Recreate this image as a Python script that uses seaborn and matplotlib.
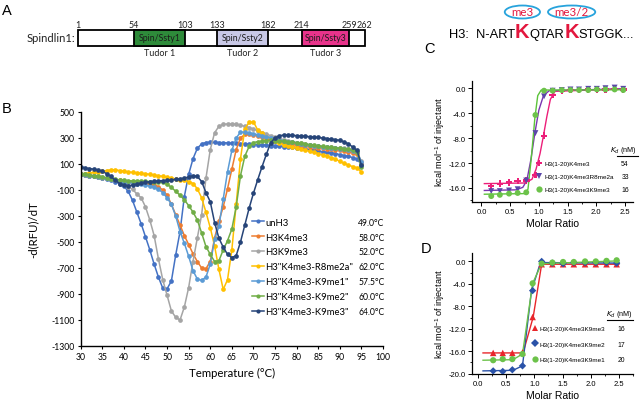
import matplotlib
matplotlib.use("Agg")
import matplotlib.pyplot as plt
import seaborn as sns
import pandas as pd
import numpy as np
from matplotlib.patches import Rectangle, Ellipse
from matplotlib.lines import Line2D
from matplotlib.ticker import MultipleLocator, FormatStrFormatter
from matplotlib.font_manager import FontProperties

# ------------------------------------------------------------------ data
# Panel A: domain architecture
protein_name = "Spindlin1:"
protein_start = 1
protein_end = 262
domain_names = ["Spin/Ssty1", "Spin/Ssty2", "Spin/Ssty3"]
domain_start = [54, 133, 214]
domain_end = [103, 182, 259]
domain_tudor = ["Tudor 1", "Tudor 2", "Tudor 3"]
domain_colors = ["#2e8b3a", "#c8c8e6", "#e8338b"]

# H3 tail sequence
seq_prefix = "H3:  N-ART"
seq_parts = ["K", "QTAR", "K", "STGGK..."]
seq_mods = ["me3", None, "me3/2", None]

# Panel B: DSF first-derivative curves
temps = list(range(30, 96))
dsf_labels = ["unH3", "H3K4me3", "H3K9me3", 'H3"K4me3-R8me2a"',
              'H3"K4me3-K9me1"', 'H3"K4me3-K9me2"', 'H3"K4me3-K9me3"']
dsf_tm = ["49.0°C", "58.0°C", "52.0°C", "62.0°C", "57.5°C", "60.0°C", "64.0°C"]
dsf_colors = ["#4472c4", "#ed7d31", "#a5a5a5", "#ffc000", "#5b9bd5", "#70ad47", "#264478"]

unH3 = [20, 15, 10, 5, 0, -8, -15, -22, -35, -50,
        -70, -110, -180, -270, -360, -460, -560, -670, -770, -855,
        -860, -800, -600, -420, -150, 20, 140, 220, 255, 265,
        268, 266, 265, 264, 262, 260, 258, 256, 254, 252,
        250, 248, 246, 244, 242, 240, 237, 234, 231, 228,
        225, 220, 215, 210, 205, 200, 195, 190, 185, 180,
        172, 165, 158, 150, 138, 95]
h3k4me3 = [20, 15, 10, 5, 0, -5, -10, -15, -20, -25,
           -30, -35, -40, -45, -48, -52, -56, -62, -75, -100,
           -140, -210, -290, -370, -450, -520, -590, -650, -700, -705,
           -650, -470, -340, -230, -90, 60, 210, 300, 328, 332,
           325, 315, 305, 295, 285, 277, 270, 263, 257, 252,
           247, 242, 238, 234, 230, 226, 222, 218, 214, 210,
           206, 200, 194, 188, 178, 110]
h3k9me3 = [25, 20, 15, 10, 5, 0, -8, -15, -25, -38,
           -55, -75, -95, -130, -160, -230, -330, -450, -630, -790,
           -910, -1030, -1080, -1100, -1000, -850, -650, -470, -290, -10,
           210, 340, 390, 405, 408, 408, 405, 398, 390, 380,
           370, 355, 342, 330, 318, 306, 296, 288, 280, 272,
           265, 258, 252, 246, 241, 237, 233, 230, 227, 225,
           223, 220, 215, 210, 195, 120]
r8me2a = [20, 25, 30, 35, 40, 45, 50, 55, 55, 50,
          45, 40, 35, 32, 28, 25, 20, 15, 10, 5,
          0, -10, -15, -20, -25, -35, -50, -90, -160, -270,
          -390, -530, -710, -865, -790, -560, -210, 140, 370, 420,
          425, 360, 335, 305, 292, 278, 262, 250, 240, 232,
          225, 216, 208, 198, 190, 180, 170, 160, 150, 138,
          120, 105, 92, 80, 70, 40]
k9me1 = [20, 15, 10, 5, 0, -5, -10, -15, -22, -28,
         -35, -40, -45, -50, -55, -62, -70, -80, -95, -120,
         -160, -210, -300, -420, -510, -610, -720, -785, -795, -770,
         -670, -480, -380, -170, 40, 205, 300, 345, 345, 340,
         333, 325, 318, 310, 302, 294, 286, 279, 272, 266,
         260, 254, 249, 244, 240, 236, 232, 228, 224, 220,
         216, 212, 208, 203, 192, 115]
k9me2 = [25, 20, 15, 10, 5, 0, -5, -12, -18, -22,
         -25, -28, -30, -32, -33, -34, -35, -36, -37, -40,
         -55, -80, -110, -140, -175, -220, -270, -330, -430, -535,
         -595, -650, -645, -560, -490, -400, -230, 10, 160, 235,
         265, 272, 276, 280, 282, 280, 278, 275, 272, 268,
         264, 260, 255, 250, 245, 240, 236, 232, 228, 225,
         222, 218, 212, 205, 190, 75]
k9me3 = [75, 70, 65, 60, 55, 45, 25, 5, -25, -50,
         -62, -67, -62, -55, -48, -40, -36, -33, -30, -28,
         -25, -22, -18, -15, -8, 0, 10, 5, -35, -120,
         -190, -350, -470, -540, -595, -620, -605, -500, -370, -240,
         -125, -20, 80, 175, 265, 300, 318, 322, 322, 320,
         318, 316, 313, 310, 307, 304, 300, 296, 292, 287,
         282, 270, 255, 230, 205, 90]
dsf_series = [unH3, h3k4me3, h3k9me3, r8me2a, k9me1, k9me2, k9me3]
yticks_B = [500, 300, 100, -100, -300, -500, -700, -900, -1100, -1300]

# Panel C: ITC
c_labels = ["H3(1-20)K4me3", "H3(1-20)K4me3R8me2a", "H3(1-20)K4me3K9me3"]
c_kd = ["54", "33", "16"]
c_colors = ["#ec1e79", "#5a46a8", "#6cc24a"]
c_line_colors = ["#ec1e79", "#7a35b0", "#5cc33a"]
c_markers = ["P", "v", "o"]
c_x = [0.17, 0.32, 0.48, 0.63, 0.78, 0.94, 1.09, 1.24, 1.40, 1.55,
       1.70, 1.86, 2.01, 2.16, 2.32, 2.47]
c_pink = [-15.7, -15.3, -15.1, -14.9, -14.8, -13.9, -7.6, -1.1, -0.4, -0.3,
          -0.3, -0.2, -0.2, -0.2, -0.1, -0.2]
c_purple = [-16.5, -16.5, -16.4, -16.2, -14.8, -7.2, -1.3, -0.4, -0.3, -0.2,
            -0.2, -0.1, -0.1, 0.0, 0.1, -0.1]
c_green = [-17.3, -17.1, -16.9, -16.8, -16.7, -4.3, -0.4, -0.4, -0.3, -0.3,
           -0.3, -0.3, -0.2, -0.2, -0.2, -0.3]
c_fit_pink_x = [0.05, 0.75, 0.88, 0.95, 1.02, 1.08, 1.14, 1.20, 1.28, 2.50]
c_fit_pink_y = [-15.3, -15.2, -14.6, -13.0, -10.5, -7.6, -4.5, -1.8, -0.5, -0.1]
c_fit_purple_x = [0.05, 0.60, 0.72, 0.79, 0.86, 0.93, 1.00, 1.08, 1.18, 2.50]
c_fit_purple_y = [-16.4, -16.3, -15.9, -14.8, -11.5, -7.2, -3.5, -1.2, -0.4, -0.1]
c_fit_green_x = [0.05, 0.76, 0.81, 0.87, 0.93, 0.98, 1.04, 2.50]
c_fit_green_y = [-17.0, -16.9, -16.2, -11.0, -4.8, -1.2, -0.3, -0.25]

# Panel D: ITC
d_labels = ["H3(1-20)K4me3K9me3", "H3(1-20)K4me3K9me2", "H3(1-20)K4me3K9me1"]
d_kd = ["16", "17", "20"]
d_colors = ["#e8262b", "#2a52a8", "#6cc24a"]
d_markers = ["^", "D", "o"]
d_x = [0.27, 0.44, 0.61, 0.79, 0.97, 1.13, 1.32, 1.51, 1.70, 1.90, 2.09, 2.28, 2.46]
d_red = [-16.3, -16.3, -16.3, -16.2, -9.9, -0.5, -0.5, -0.5, -0.5, -0.5, -0.5, -0.5, -0.5]
d_blue = [-19.5, -19.6, -19.3, -18.6, -5.2, 0.0, -0.3, -0.4, -0.2, -0.2, -0.2, -0.2, -0.3]
d_green = [-17.6, -17.4, -17.4, -16.5, -3.9, -0.4, -0.2, -0.1, -0.1, 0.0, 0.0, 0.1, 0.2]
d_fit_red_x = [0.09, 0.80, 0.98, 1.13, 2.50]
d_fit_red_y = [-16.3, -16.3, -9.9, -0.5, -0.5]
d_fit_blue_x = [0.09, 0.62, 0.79, 0.95, 1.11, 2.50]
d_fit_blue_y = [-19.5, -19.4, -18.6, -5.2, -0.2, -0.3]
d_fit_green_x = [0.09, 0.62, 0.79, 0.97, 1.13, 2.50]
d_fit_green_y = [-17.6, -17.5, -16.5, -3.9, -0.4, 0.1]

# ------------------------------------------------------------------ style
plt.rcParams["font.family"] = ["Lato", "DejaVu Sans"]
plt.rcParams["axes.unicode_minus"] = False
plt.rcParams["mathtext.default"] = "regular"
ARIAL = ["Liberation Sans", "DejaVu Sans"]
NARROW = ["Liberation Sans Narrow", "Liberation Sans", "DejaVu Sans"]
RED = "#e3173e"
ITC_FS = 4.6

W, H = 640, 402
fig = plt.figure(figsize=(W / 100, H / 100), dpi=100)


def fx(px):
    return px / W


def fy(py):
    return 1 - py / H


# ------------------------------------------------------------------ panel A
axA = fig.add_axes([0, 0.75, 0.68, 0.25])
axA.axis("off")
scale = 270.7 / 258.0
axA.set_xlim(1 - 78.3 / scale, 1 + (0.68 * W - 78.3) / scale)
axA.set_ylim(0.25 * H, 0)
box_tail = 12
box_top, box_h = 31, 15.7
axA.add_patch(Rectangle((protein_start, box_top), protein_end + box_tail - protein_start, box_h,
                        facecolor="white", edgecolor="black", lw=1.3))
for nm, s0, e0, col, td in zip(domain_names, domain_start, domain_end, domain_colors, domain_tudor):
    axA.add_patch(Rectangle((s0, box_top), e0 - s0, box_h, facecolor=col, edgecolor="black", lw=1.3))
    axA.text((s0 + e0) / 2, box_top + box_h / 2, nm, ha="center", va="center", fontsize=6.3, color="#1a1a1a")
    axA.text((s0 + e0) / 2, 53.5, td, ha="center", va="center", fontsize=6.5, color="#222222")
num_pos = [protein_start] + [v for pair in zip(domain_start, domain_end) for v in pair]
for p in num_pos:
    axA.text(p, 25, str(p), ha="center", va="center", fontsize=6.5, color="#222222")
axA.text(protein_end + box_tail, 25, str(protein_end), ha="center", va="center", fontsize=6.5, color="#222222")
fig.text(fx(75), fy(39), protein_name, ha="right", va="center", fontsize=8, color="#222222")

# H3 sequence
renderer = fig.canvas.get_renderer()
x_cur = 449
base = 38
t = fig.text(fx(x_cur), fy(base), seq_prefix, fontsize=9.3, family=ARIAL, va="baseline", ha="left")
x_cur = t.get_window_extent(renderer).x1
for part, mod in zip(seq_parts, seq_mods):
    if part == "K":
        t = fig.text(fx(x_cur), fy(base), part, fontsize=14.5, family=ARIAL, weight="bold",
                     color=RED, va="baseline", ha="left")
    else:
        t = fig.text(fx(x_cur), fy(base), part, fontsize=9.3, family=ARIAL, va="baseline", ha="left")
    bb = t.get_window_extent(renderer)
    if mod:
        xc = (bb.x0 + bb.x1) / 2
        mt = fig.text(fx(xc), fy(13), mod, fontsize=8.3, color=RED, ha="center", va="center")
        mb = mt.get_window_extent(renderer)
        fig.add_artist(Ellipse((fx(xc), fy(13)), (mb.width + 13) / W, 13 / H,
                               transform=fig.transFigure, fill=False, edgecolor="#27a3dc", lw=1.3))
    x_cur = bb.x1

# ------------------------------------------------------------------ panel B
axB = fig.add_axes([fx(80.7), fy(347), (383 - 80.7) / W, (347 - 113) / H])
dfB = pd.DataFrame({
    "Temperature": np.tile(temps, len(dsf_series)),
    "dRFU": np.concatenate(dsf_series),
    "sample": np.repeat(dsf_labels, len(temps)),
})
sns.lineplot(data=dfB, x="Temperature", y="dRFU", hue="sample", hue_order=dsf_labels,
             palette=dict(zip(dsf_labels, dsf_colors)), marker="o", markersize=3.4,
             markeredgewidth=0, linewidth=1.1, estimator=None, sort=False, legend=False, ax=axB)
axB.set_xlim(30, 100)
axB.set_ylim(-1300, 500)
axB.set_xticks(list(range(30, 101, 5)))
axB.set_yticks(yticks_B)
axB.set_yticklabels([str(v) for v in yticks_B])
for sp in ["top", "right"]:
    axB.spines[sp].set_visible(False)
for sp in ["left", "bottom"]:
    axB.spines[sp].set_linewidth(1.0)
axB.tick_params(direction="out", length=2.5, width=0.8, labelsize=6.2, pad=2)
axB.set_xlabel("Temperature (°C)", fontsize=8.2, labelpad=4)
axB.set_ylabel("-d(RFU)/dT", fontsize=8.2, labelpad=9)

handlesB = [Line2D([0], [0], color=c, lw=1.1, marker="o", markersize=3, markeredgewidth=0)
            for c in dsf_colors]
legB = axB.legend(handlesB, dsf_labels, loc="upper left", bbox_to_anchor=(0.566, 0.548),
                  frameon=False, fontsize=6.8, handlelength=1.3, handletextpad=0.15,
                  labelspacing=0.62, borderpad=0, borderaxespad=0)


# ------------------------------------------------------------------ panels C, D
def style_itc(ax):
    for sp in ["top", "right"]:
        ax.spines[sp].set_visible(False)
    for sp in ["left", "bottom"]:
        ax.spines[sp].set_linewidth(0.9)
    ax.xaxis.set_major_locator(MultipleLocator(0.5))
    ax.xaxis.set_minor_locator(MultipleLocator(0.25))
    ax.yaxis.set_major_locator(MultipleLocator(4))
    ax.yaxis.set_minor_locator(MultipleLocator(2))
    ax.xaxis.set_major_formatter(FormatStrFormatter("%.1f"))
    ax.yaxis.set_major_formatter(FormatStrFormatter("%.1f"))
    ax.tick_params(which="major", direction="out", length=3, width=0.7, labelsize=5.5, pad=1.5)
    ax.tick_params(which="minor", direction="out", length=1.6, width=0.6)
    for lab in ax.get_xticklabels() + ax.get_yticklabels():
        lab.set_family(ARIAL)
    ax.set_xlabel("Molar Ratio", fontsize=7.5, family=NARROW, labelpad=2)
    ax.set_ylabel("kcal mol$^{-1}$ of injectant", fontsize=6.6, family=NARROW, labelpad=1.5)


axC = fig.add_axes([fx(472.3), fy(202.7), 160.7 / W, 121 / H])
c_fits = [(c_fit_pink_x, c_fit_pink_y), (c_fit_purple_x, c_fit_purple_y), (c_fit_green_x, c_fit_green_y)]
c_pts = [c_pink, c_purple, c_green]
c_sizes = [22, 18, 18]
for (fxs, fys), lc in zip(c_fits, c_line_colors):
    sns.lineplot(x=fxs, y=fys, color=lc, lw=1.0, sort=False, estimator=None, ax=axC)
for ys, col, mk, sz in zip(c_pts, c_colors, c_markers, c_sizes):
    sns.scatterplot(x=c_x, y=ys, color=col, marker=mk, s=sz, edgecolor="none", ax=axC, zorder=3)
axC.set_xlim(-0.16, 2.64)
axC.set_ylim(-18.2, 1.2)
style_itc(axC)

hC = [Line2D([], [], ls="none", marker=m, color=c, markersize=4.5, markeredgewidth=0)
      for m, c in zip(c_markers, c_colors)]
legC = axC.legend(hC, c_labels, loc="upper left", bbox_to_anchor=(0.40, 0.339), frameon=False,
                  prop=FontProperties(family=NARROW, size=ITC_FS), handlelength=0.9, handletextpad=0.3,
                  labelspacing=1.2, borderpad=0, borderaxespad=0)
axC.text(0.943, 0.43, r"$\mathit{K}_\mathit{d}$ (nM)", transform=axC.transAxes, ha="center",
         va="center", fontsize=5.2, family=NARROW)
axC.plot([0.90, 1.03], [0.38, 0.38], transform=axC.transAxes, color="black", lw=0.8, clip_on=False)

axD = fig.add_axes([fx(472.3), fy(374.7), 160.7 / W, (374.7 - 254) / H])
d_fits = [(d_fit_red_x, d_fit_red_y), (d_fit_blue_x, d_fit_blue_y), (d_fit_green_x, d_fit_green_y)]
d_pts = [d_red, d_blue, d_green]
d_sizes = [22, 14, 20]
for (fxs, fys), lc in zip(d_fits, d_colors):
    sns.lineplot(x=fxs, y=fys, color=lc, lw=1.0, sort=False, estimator=None, ax=axD)
for ys, col, mk, sz in zip(d_pts, d_colors, d_markers, d_sizes):
    sns.scatterplot(x=d_x, y=ys, color=col, marker=mk, s=sz, edgecolor="none", ax=axD, zorder=3)
axD.set_xlim(-0.1, 2.75)
axD.set_ylim(-20, 1.5)
style_itc(axD)

hD = [Line2D([], [], ls="none", marker=m, color=c, markersize=4.5, markeredgewidth=0)
      for m, c in zip(d_markers, d_colors)]
legD = axD.legend(hD, d_labels, loc="upper left", bbox_to_anchor=(0.37, 0.398), frameon=False,
                  prop=FontProperties(family=NARROW, size=ITC_FS), handlelength=0.9, handletextpad=0.3,
                  labelspacing=1.58, borderpad=0, borderaxespad=0)
axD.text(0.913, 0.495, r"$\mathit{K}_\mathit{d}$ (nM)", transform=axD.transAxes, ha="center",
         va="center", fontsize=5.2, family=NARROW)
axD.plot([0.837, 1.0], [0.445, 0.445], transform=axD.transAxes, color="black", lw=0.8, clip_on=False)

# ------------------------------------------------------------------ aligned value columns
fig.canvas.draw()
renderer = fig.canvas.get_renderer()
for txt, tm in zip(legB.get_texts(), dsf_tm):
    bb = txt.get_window_extent(renderer)
    fig.text(fx(358.3), ((bb.y0 + bb.y1) / 2) / H, tm, ha="left", va="center", fontsize=6.2)
for txt, kd in zip(legC.get_texts(), c_kd):
    bb = txt.get_window_extent(renderer)
    fig.text(fx(625), ((bb.y0 + bb.y1) / 2) / H, kd, ha="center", va="center", fontsize=ITC_FS + 0.3, family=NARROW)
for txt, kd in zip(legD.get_texts(), d_kd):
    bb = txt.get_window_extent(renderer)
    fig.text(fx(621), ((bb.y0 + bb.y1) / 2) / H, kd, ha="center", va="center", fontsize=ITC_FS + 0.3, family=NARROW)

# panel letters
for letter, px, py in [("A", 2, 4), ("B", 2, 102), ("C", 424, 42), ("D", 421, 242)]:
    fig.text(fx(px), fy(py), letter, ha="left", va="top", fontsize=10.5, family=ARIAL)

fig.savefig("out.png", dpi=100)
